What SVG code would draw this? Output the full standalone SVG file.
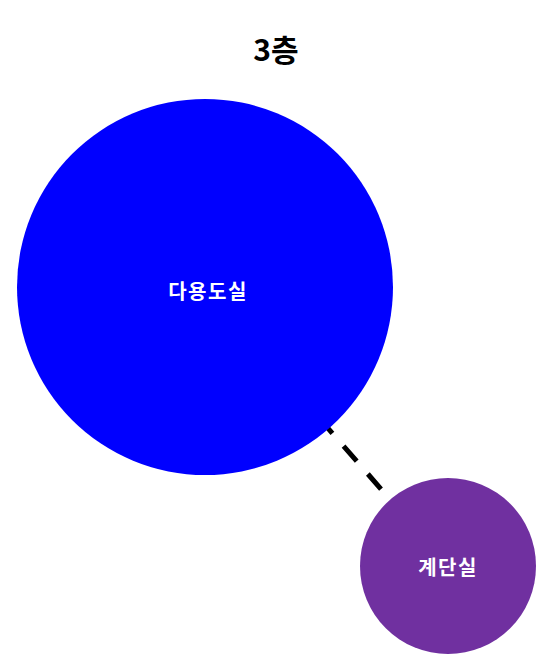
<svg xmlns="http://www.w3.org/2000/svg" width="554" height="670" viewBox="0 0 554 670">
<style>
.lbl{font-family:"Noto Sans CJK KR","Noto Sans",sans-serif;font-weight:bold;fill:#fff;font-size:20px;letter-spacing:1.5px;text-anchor:middle;dominant-baseline:central}
.title{font-family:"Noto Sans CJK KR","Noto Sans",sans-serif;font-weight:bold;fill:#000;font-size:30px;text-anchor:middle;dominant-baseline:central}
.edge{stroke:#000;stroke-width:5;stroke-dasharray:20,17;stroke-dashoffset:11;fill:none}
</style>
<rect width="554" height="670" fill="#fff"/>
<text class="title" x="276" y="48">3층</text>
<g id="connectors">
<line class="edge" x1="205" y1="287" x2="448" y2="566"/>
</g>
<g id="node-dayongdosil">
<circle cx="205" cy="287" r="188" fill="#0000FF"/>
<text class="lbl" x="208" y="290">다용도실</text>
</g>
<g id="node-gyedansil">
<circle cx="448" cy="566" r="88" fill="#7030A0"/>
<text class="lbl" x="448" y="566">계단실</text>
</g>
</svg>
